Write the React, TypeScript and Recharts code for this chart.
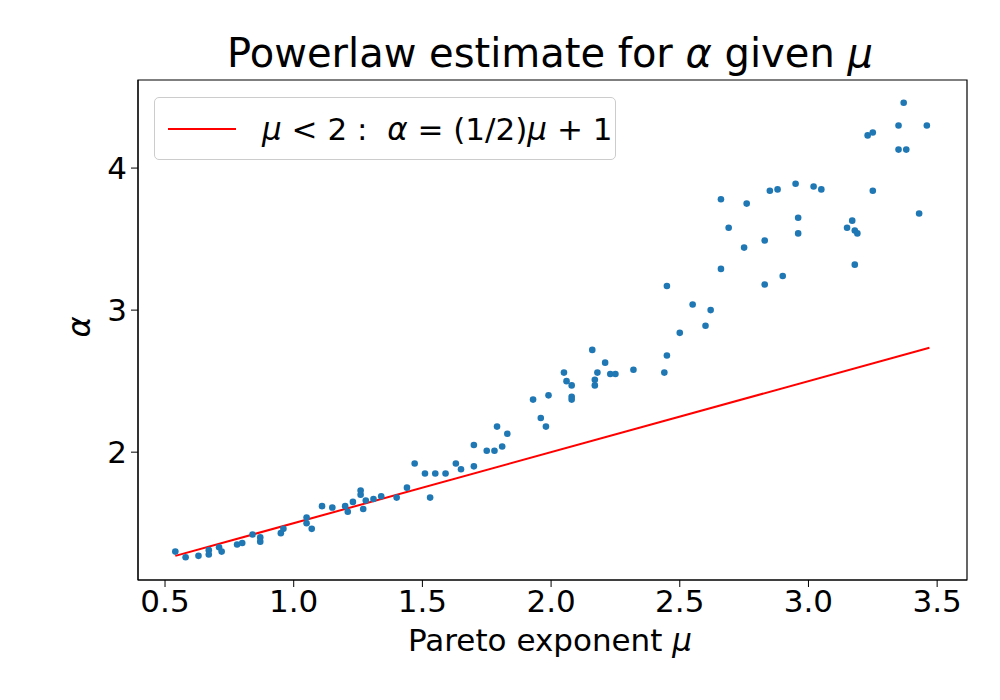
import { ScatterChart, Scatter, XAxis, YAxis, ReferenceArea } from 'recharts';

const muValues = [
  0.54, 0.58, 0.63, 0.67, 0.67, 0.71, 0.72, 0.78, 0.8, 0.84, 0.87, 0.87, 0.95, 0.96, 1.05, 1.05, 1.07,
  1.11, 1.15, 1.2, 1.21, 1.23, 1.26, 1.26, 1.27, 1.28, 1.31, 1.34, 1.4, 1.44, 1.47, 1.51, 1.53, 1.55,
  1.59, 1.63, 1.65, 1.7, 1.7, 1.75, 1.78, 1.79, 1.81, 1.83, 1.93, 1.96, 1.98, 1.99, 2.05, 2.06, 2.08,
  2.08, 2.08, 2.16, 2.17, 2.17, 2.18, 2.21, 2.23, 2.25, 2.32, 2.44, 2.45, 2.45, 2.5, 2.55, 2.6, 2.62,
  2.66, 2.66, 2.69, 2.75, 2.76, 2.83, 2.83, 2.85, 2.88, 2.9, 2.95, 2.96, 2.96, 3.02, 3.05, 3.15, 3.17,
  3.18, 3.18, 3.19, 3.23, 3.25, 3.25, 3.35, 3.35, 3.37, 3.38, 3.43, 3.46,
];
const alphaValues = [
  1.3, 1.26, 1.27, 1.31, 1.28, 1.33, 1.3, 1.35, 1.36, 1.42, 1.4, 1.37, 1.43, 1.46, 1.54, 1.5, 1.46,
  1.62, 1.61, 1.62, 1.58, 1.65, 1.73, 1.7, 1.6, 1.66, 1.67, 1.69, 1.68, 1.75, 1.92, 1.85, 1.68, 1.85,
  1.85, 1.92, 1.88, 1.9, 2.05, 2.01, 2.01, 2.18, 2.04, 2.13, 2.37, 2.24, 2.18, 2.4, 2.56, 2.5, 2.47,
  2.39, 2.37, 2.72, 2.51, 2.47, 2.56, 2.63, 2.55, 2.55, 2.58, 2.56, 3.17, 2.68, 2.84, 3.04, 2.89, 3.0,
  3.29, 3.78, 3.58, 3.44, 3.75, 3.18, 3.49, 3.84, 3.85, 3.24, 3.89, 3.65, 3.54, 3.87, 3.85, 3.58, 3.63,
  3.32, 3.56, 3.54, 4.23, 4.25, 3.84, 4.3, 4.13, 4.46, 4.13, 3.68, 4.3,
];
const lineMu = [0.54, 3.47];
const xTicks = [0.5, 1.0, 1.5, 2.0, 2.5, 3.0, 3.5];
const yTicks = [2, 3, 4];
const xDomain = [0.395, 3.616];
const yDomain = [1.1, 4.62];

const points = muValues.map((m, i) => ({ x: m, y: alphaValues[i] }));
const linePoints = lineMu.map(m => ({ x: m, y: m / 2 + 1 }));

const font = '"DejaVu Sans", sans-serif';
const tickStyle = { fontSize: 31, fill: '#000', fontFamily: font };

export default function App() {
  return (
    <div style={{ position: 'absolute', left: 0, top: 0, width: 1000, height: 700, background: '#fff', fontFamily: font }}>
      <div style={{ position: 'absolute', left: 100, width: 900, top: 30, textAlign: 'center', fontSize: 40, color: '#000' }}>
        Powerlaw estimate for <i>α</i> given <i>μ</i>
      </div>
      <ScatterChart width={1000} height={700} margin={{ top: 80, right: 33, bottom: 60, left: 68 }}>
        <XAxis type="number" dataKey="x" domain={xDomain} ticks={xTicks} allowDataOverflow
          tickFormatter={(v: number) => v.toFixed(1)} tick={tickStyle} tickSize={7}
          stroke="#000" height={60} tickMargin={3} />
        <YAxis type="number" dataKey="y" domain={yDomain} ticks={yTicks} allowDataOverflow
          tick={tickStyle} tickSize={7} stroke="#000" width={70} tickMargin={4} />
        <ReferenceArea x1={xDomain[0]} x2={xDomain[1]} y1={yDomain[0]} y2={yDomain[1]} fill="none" stroke="#000" strokeWidth={1.2} />
        <Scatter data={linePoints} line={{ stroke: '#ff0000', strokeWidth: 2 }} shape={() => null} isAnimationActive={false} />
        <Scatter data={points} fill="#1f77b4" shape={(p: any) => <circle cx={p.cx} cy={p.cy} r={3.3} fill="#1f77b4" />} isAnimationActive={false} />
      </ScatterChart>
      <div style={{ position: 'absolute', left: 100, width: 900, top: 622, textAlign: 'center', fontSize: 31, color: '#000' }}>
        Pareto exponent <i>μ</i>
      </div>
      <div style={{ position: 'absolute', left: 68, top: 308, fontSize: 32, color: '#000', transform: 'rotate(-90deg)', transformOrigin: 'center' }}>
        <i>α</i>
      </div>
      <div style={{ position: 'absolute', left: 154, top: 97, width: 462, height: 63, border: '1px solid #ccc', borderRadius: 5, background: 'rgba(255,255,255,0.8)', display: 'flex', alignItems: 'center', boxSizing: 'border-box' }}>
        <div style={{ width: 68, height: 2, background: '#ff0000', marginLeft: 13, marginRight: 26 }} />
        <span style={{ fontSize: 31, color: '#000', whiteSpace: 'nowrap' }}>
          <i>μ</i> &lt; 2 :&nbsp; <i>α</i> = (1/2)<i>μ</i> + 1
        </span>
      </div>
    </div>
  );
}
